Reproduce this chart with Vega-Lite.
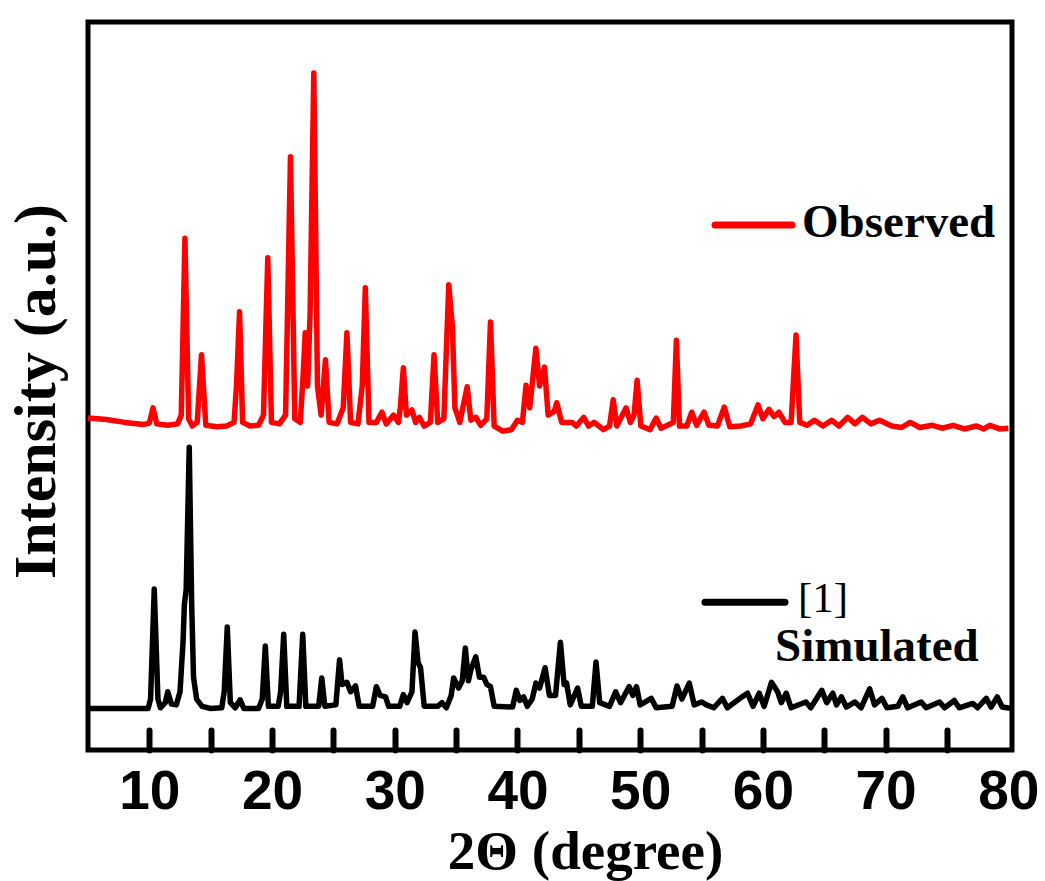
{
  "$schema": "https://vega.github.io/schema/vega-lite/v6.json",
  "width": 924,
  "height": 728,
  "autosize": {"type": "none"},
  "padding": {"left": 88, "top": 22, "right": 33, "bottom": 131},
  "background": "white",
  "config": {"view": {"stroke": "black", "strokeWidth": 5}},
  "datasets": {
    "xrd": [
      {"s":"O","x":5.0,"y":45.6},{"s":"O","x":6.5,"y":45.4},{"s":"O","x":8.0,"y":45.0},{"s":"O","x":9.5,"y":44.7},{"s":"O","x":10.0,"y":44.9},{"s":"O","x":10.3,"y":47.0},{"s":"O","x":10.6,"y":44.8},{"s":"O","x":11.5,"y":44.6},{"s":"O","x":12.3,"y":44.8},{"s":"O","x":12.6,"y":46},{"s":"O","x":12.9,"y":70.3},{"s":"O","x":13.2,"y":45.5},{"s":"O","x":13.5,"y":44.5},{"s":"O","x":13.9,"y":45},{"s":"O","x":14.25,"y":54.3},{"s":"O","x":14.6,"y":44.6},{"s":"O","x":15.5,"y":44.4},{"s":"O","x":16.3,"y":44.5},{"s":"O","x":16.9,"y":45},{"s":"O","x":17.1,"y":50},{"s":"O","x":17.35,"y":60.2},{"s":"O","x":17.6,"y":45},{"s":"O","x":18.2,"y":44.5},{"s":"O","x":18.9,"y":44.6},{"s":"O","x":19.3,"y":46},{"s":"O","x":19.65,"y":67.6},{"s":"O","x":19.95,"y":45},{"s":"O","x":20.6,"y":44.8},{"s":"O","x":21.1,"y":46},{"s":"O","x":21.5,"y":81.5},{"s":"O","x":21.85,"y":45.5},{"s":"O","x":22.3,"y":45},{"s":"O","x":22.55,"y":52},{"s":"O","x":22.7,"y":57.3},{"s":"O","x":22.9,"y":50},{"s":"O","x":23.1,"y":60},{"s":"O","x":23.4,"y":93.0},{"s":"O","x":23.7,"y":50},{"s":"O","x":24.0,"y":46},{"s":"O","x":24.35,"y":53.6},{"s":"O","x":24.65,"y":45},{"s":"O","x":25.3,"y":44.8},{"s":"O","x":25.8,"y":47},{"s":"O","x":26.1,"y":57.3},{"s":"O","x":26.4,"y":45},{"s":"O","x":27.0,"y":44.8},{"s":"O","x":27.35,"y":50},{"s":"O","x":27.6,"y":63.5},{"s":"O","x":27.9,"y":45},{"s":"O","x":28.5,"y":45},{"s":"O","x":28.95,"y":46.4},{"s":"O","x":29.3,"y":44.8},{"s":"O","x":29.9,"y":46},{"s":"O","x":30.3,"y":45},{"s":"O","x":30.45,"y":47},{"s":"O","x":30.7,"y":52.5},{"s":"O","x":30.95,"y":46},{"s":"O","x":31.4,"y":46.7},{"s":"O","x":31.7,"y":45},{"s":"O","x":32.0,"y":45.7},{"s":"O","x":32.4,"y":44.5},{"s":"O","x":32.9,"y":45},{"s":"O","x":33.2,"y":54.3},{"s":"O","x":33.5,"y":45},{"s":"O","x":34.0,"y":45.5},{"s":"O","x":34.4,"y":63.9},{"s":"O","x":34.7,"y":58},{"s":"O","x":34.9,"y":47},{"s":"O","x":35.3,"y":45},{"s":"O","x":35.9,"y":49.9},{"s":"O","x":36.2,"y":45.3},{"s":"O","x":36.6,"y":45.7},{"s":"O","x":37.0,"y":44.6},{"s":"O","x":37.5,"y":45.5},{"s":"O","x":37.8,"y":58.8},{"s":"O","x":38.1,"y":44.5},{"s":"O","x":38.8,"y":43.8},{"s":"O","x":39.5,"y":44},{"s":"O","x":40.0,"y":45.3},{"s":"O","x":40.4,"y":45},{"s":"O","x":40.7,"y":50.1},{"s":"O","x":41.0,"y":47},{"s":"O","x":41.5,"y":55.2},{"s":"O","x":41.8,"y":50},{"s":"O","x":42.2,"y":52.6},{"s":"O","x":42.5,"y":46},{"s":"O","x":43.0,"y":46.5},{"s":"O","x":43.2,"y":47.7},{"s":"O","x":43.6,"y":45},{"s":"O","x":44.45,"y":45},{"s":"O","x":44.8,"y":44.5},{"s":"O","x":45.4,"y":45.7},{"s":"O","x":45.8,"y":44.5},{"s":"O","x":46.25,"y":45},{"s":"O","x":47.0,"y":44},{"s":"O","x":47.5,"y":44.5},{"s":"O","x":47.8,"y":48.1},{"s":"O","x":48.1,"y":44.5},{"s":"O","x":48.85,"y":47},{"s":"O","x":49.2,"y":45},{"s":"O","x":49.5,"y":46},{"s":"O","x":49.75,"y":50.8},{"s":"O","x":50.05,"y":44.5},{"s":"O","x":50.8,"y":44},{"s":"O","x":51.3,"y":45.6},{"s":"O","x":51.7,"y":44.2},{"s":"O","x":52.7,"y":45},{"s":"O","x":52.95,"y":56.3},{"s":"O","x":53.2,"y":44.5},{"s":"O","x":53.8,"y":44.5},{"s":"O","x":54.2,"y":46.4},{"s":"O","x":54.6,"y":44.6},{"s":"O","x":55.2,"y":46.4},{"s":"O","x":55.6,"y":44.6},{"s":"O","x":56.3,"y":44.5},{"s":"O","x":56.85,"y":47.1},{"s":"O","x":57.3,"y":44.4},{"s":"O","x":58.2,"y":44.5},{"s":"O","x":59.0,"y":44.8},{"s":"O","x":59.6,"y":47.4},{"s":"O","x":60.0,"y":45.5},{"s":"O","x":60.5,"y":46.8},{"s":"O","x":60.9,"y":45.8},{"s":"O","x":61.3,"y":46.4},{"s":"O","x":61.8,"y":45},{"s":"O","x":62.3,"y":45},{"s":"O","x":62.7,"y":57.0},{"s":"O","x":63.0,"y":45},{"s":"O","x":63.6,"y":44.6},{"s":"O","x":64.2,"y":45.3},{"s":"O","x":64.9,"y":44.5},{"s":"O","x":65.6,"y":45.3},{"s":"O","x":66.2,"y":44.5},{"s":"O","x":66.9,"y":45.7},{"s":"O","x":67.5,"y":44.8},{"s":"O","x":68.1,"y":45.7},{"s":"O","x":68.8,"y":44.8},{"s":"O","x":69.5,"y":45.3},{"s":"O","x":70.5,"y":44.5},{"s":"O","x":71.3,"y":44.3},{"s":"O","x":72.0,"y":45},{"s":"O","x":72.8,"y":44.3},{"s":"O","x":73.8,"y":44.6},{"s":"O","x":74.6,"y":44.2},{"s":"O","x":75.5,"y":44.6},{"s":"O","x":76.4,"y":44.1},{"s":"O","x":77.4,"y":44.5},{"s":"O","x":78.0,"y":44.1},{"s":"O","x":78.5,"y":44.6},{"s":"O","x":79.3,"y":44.1},{"s":"O","x":80.0,"y":44.2},
      {"s":"S","x":5.0,"y":5.7},{"s":"S","x":9.9,"y":5.7},{"s":"S","x":10.1,"y":7},{"s":"S","x":10.4,"y":22.1},{"s":"S","x":10.7,"y":7},{"s":"S","x":10.9,"y":5.8},{"s":"S","x":11.3,"y":6.5},{"s":"S","x":11.5,"y":8.0},{"s":"S","x":11.8,"y":6.3},{"s":"S","x":12.2,"y":6.2},{"s":"S","x":12.5,"y":8},{"s":"S","x":12.75,"y":15},{"s":"S","x":12.85,"y":19.9},{"s":"S","x":13.0,"y":22},{"s":"S","x":13.25,"y":41.6},{"s":"S","x":13.45,"y":20},{"s":"S","x":13.6,"y":10},{"s":"S","x":13.85,"y":7},{"s":"S","x":14.3,"y":6},{"s":"S","x":15.0,"y":5.7},{"s":"S","x":15.9,"y":5.8},{"s":"S","x":16.1,"y":8},{"s":"S","x":16.35,"y":16.9},{"s":"S","x":16.6,"y":6.5},{"s":"S","x":17.0,"y":5.8},{"s":"S","x":17.4,"y":6.9},{"s":"S","x":17.7,"y":5.7},{"s":"S","x":18.9,"y":5.7},{"s":"S","x":19.2,"y":7},{"s":"S","x":19.45,"y":14.3},{"s":"S","x":19.7,"y":6},{"s":"S","x":20.5,"y":6},{"s":"S","x":20.7,"y":8},{"s":"S","x":20.95,"y":15.9},{"s":"S","x":21.2,"y":6},{"s":"S","x":22.2,"y":6},{"s":"S","x":22.5,"y":15.9},{"s":"S","x":22.75,"y":6},{"s":"S","x":23.8,"y":6},{"s":"S","x":24.05,"y":9.9},{"s":"S","x":24.3,"y":6},{"s":"S","x":25.2,"y":6.2},{"s":"S","x":25.5,"y":12.4},{"s":"S","x":25.7,"y":9},{"s":"S","x":26.1,"y":9.3},{"s":"S","x":26.4,"y":8},{"s":"S","x":26.8,"y":8.8},{"s":"S","x":27.1,"y":6},{"s":"S","x":28.2,"y":6},{"s":"S","x":28.5,"y":8.7},{"s":"S","x":28.8,"y":7.5},{"s":"S","x":29.25,"y":7.3},{"s":"S","x":29.5,"y":6},{"s":"S","x":30.4,"y":6},{"s":"S","x":30.7,"y":7.6},{"s":"S","x":31.0,"y":6.5},{"s":"S","x":31.4,"y":8},{"s":"S","x":31.65,"y":16.2},{"s":"S","x":31.9,"y":12},{"s":"S","x":32.1,"y":11.3},{"s":"S","x":32.4,"y":6},{"s":"S","x":33.5,"y":6},{"s":"S","x":33.85,"y":6.5},{"s":"S","x":34.2,"y":5.8},{"s":"S","x":34.6,"y":7.5},{"s":"S","x":34.8,"y":9.9},{"s":"S","x":35.2,"y":8.5},{"s":"S","x":35.5,"y":9.5},{"s":"S","x":35.75,"y":14.0},{"s":"S","x":36.0,"y":9.5},{"s":"S","x":36.2,"y":11},{"s":"S","x":36.6,"y":12.8},{"s":"S","x":36.9,"y":10},{"s":"S","x":37.25,"y":10},{"s":"S","x":37.5,"y":9},{"s":"S","x":37.8,"y":8.7},{"s":"S","x":38.1,"y":6},{"s":"S","x":39.6,"y":5.9},{"s":"S","x":39.9,"y":8.2},{"s":"S","x":40.2,"y":6.8},{"s":"S","x":40.5,"y":7.3},{"s":"S","x":40.8,"y":6},{"s":"S","x":41.2,"y":7},{"s":"S","x":41.5,"y":9.2},{"s":"S","x":41.8,"y":8.5},{"s":"S","x":42.25,"y":11.3},{"s":"S","x":42.6,"y":7.5},{"s":"S","x":43.1,"y":7.5},{"s":"S","x":43.5,"y":14.8},{"s":"S","x":43.8,"y":9},{"s":"S","x":44.0,"y":9.2},{"s":"S","x":44.3,"y":6.2},{"s":"S","x":44.9,"y":8.5},{"s":"S","x":45.2,"y":6},{"s":"S","x":46.1,"y":6},{"s":"S","x":46.4,"y":12.1},{"s":"S","x":46.7,"y":6.5},{"s":"S","x":47.5,"y":6},{"s":"S","x":48.0,"y":8},{"s":"S","x":48.4,"y":6.5},{"s":"S","x":49.1,"y":8.7},{"s":"S","x":49.4,"y":7.5},{"s":"S","x":49.7,"y":8.7},{"s":"S","x":50.0,"y":6.2},{"s":"S","x":50.9,"y":7.1},{"s":"S","x":51.3,"y":5.8},{"s":"S","x":52.6,"y":6},{"s":"S","x":53.0,"y":8.8},{"s":"S","x":53.4,"y":7},{"s":"S","x":54.0,"y":9.2},{"s":"S","x":54.4,"y":6.2},{"s":"S","x":55.0,"y":6.6},{"s":"S","x":55.4,"y":6.2},{"s":"S","x":56.0,"y":5.8},{"s":"S","x":56.7,"y":7.1},{"s":"S","x":57.1,"y":5.8},{"s":"S","x":58.3,"y":7.3},{"s":"S","x":58.75,"y":7.8},{"s":"S","x":59.2,"y":6},{"s":"S","x":59.7,"y":7.8},{"s":"S","x":60.1,"y":6},{"s":"S","x":60.7,"y":9.3},{"s":"S","x":61.2,"y":8},{"s":"S","x":61.5,"y":6.5},{"s":"S","x":61.9,"y":7.8},{"s":"S","x":62.3,"y":5.8},{"s":"S","x":63.5,"y":6.6},{"s":"S","x":63.9,"y":5.8},{"s":"S","x":64.8,"y":8.2},{"s":"S","x":65.2,"y":6.5},{"s":"S","x":65.7,"y":7.8},{"s":"S","x":66.0,"y":6.2},{"s":"S","x":66.4,"y":7.3},{"s":"S","x":66.8,"y":5.9},{"s":"S","x":67.5,"y":6.6},{"s":"S","x":68.0,"y":5.8},{"s":"S","x":68.7,"y":8.4},{"s":"S","x":69.1,"y":6.2},{"s":"S","x":69.7,"y":7.1},{"s":"S","x":70.1,"y":5.8},{"s":"S","x":71.0,"y":6},{"s":"S","x":71.4,"y":7.3},{"s":"S","x":71.8,"y":5.8},{"s":"S","x":72.9,"y":6.6},{"s":"S","x":73.3,"y":5.8},{"s":"S","x":74.4,"y":6.6},{"s":"S","x":74.8,"y":5.8},{"s":"S","x":75.6,"y":6.8},{"s":"S","x":76.0,"y":5.8},{"s":"S","x":77.1,"y":6.4},{"s":"S","x":77.5,"y":5.8},{"s":"S","x":78.2,"y":7.1},{"s":"S","x":78.6,"y":5.9},{"s":"S","x":79.1,"y":7.3},{"s":"S","x":79.5,"y":5.9},{"s":"S","x":80.3,"y":5.7}
    ],
    "keys": [
      {"s":"O","x":56.1,"x2":62.37,"y":72.1},
      {"s":"S","x":55.28,"x2":61.8,"y":20.3}
    ],
    "boldLabels": [
      {"t":"Observed","x":63.19,"y":70.5},
      {"t":"Simulated","x":60.99,"y":12.2}
    ],
    "refLabels": [
      {"t":"[1]","x":62.86,"y":18.9}
    ]
  },
  "layer": [
    {
      "data": {"name": "xrd"},
      "mark": {"type": "line", "strokeWidth": 5.5, "strokeJoin": "round", "clip": true},
      "encoding": {
        "x": {
          "field": "x", "type": "quantitative",
          "scale": {"domain": [5, 80.3], "nice": false, "zero": false},
          "axis": {
            "title": "2Θ (degree)",
            "values": [10,15,20,25,30,35,40,45,50,55,60,65,70,75,80],
            "labelExpr": "datum.value % 10 === 0 ? datum.label : ''",
            "grid": false, "domain": false,
            "tickColor": "black", "tickWidth": 6, "tickCap": "round",
            "tickSize": -20,
            "tickOpacity": {"condition": {"test": "datum.value >= 80", "value": 0}, "value": 1},
            "encode": {"ticks": {"update": {"y2": {"signal": "datum.value % 10 === 0 ? -20 : -12"}}}},
            "labelFont": "Liberation Sans", "labelFontWeight": "bold", "labelFontSize": 55,
            "labelColor": "black", "labelBaseline": "alphabetic", "labelPadding": 78,
            "labelFlush": false, "labelOverlap": false,
            "titleFont": "Liberation Serif", "titleFontWeight": "bold", "titleFontSize": 55,
            "titleColor": "black", "titleBaseline": "alphabetic", "titleAlign": "center",
            "titleX": 497, "titleY": 118
          }
        },
        "y": {
          "field": "y", "type": "quantitative",
          "scale": {"domain": [0, 100], "nice": false, "zero": false},
          "axis": {
            "title": "Intensity (a.u.)",
            "labels": false, "ticks": false, "domain": false, "grid": false,
            "titleFont": "Liberation Serif", "titleFontWeight": "bold", "titleFontSize": 60,
            "titleColor": "black", "titleAngle": -90, "titleBaseline": "alphabetic",
            "titleAlign": "center", "titleX": -34, "titleY": 369
          }
        },
        "color": {
          "field": "s", "type": "nominal",
          "scale": {"domain": ["O", "S"], "range": ["#ff0000", "#000000"]},
          "legend": null
        }
      }
    },
    {
      "data": {"name": "keys"},
      "mark": {"type": "rule", "strokeWidth": 7, "strokeCap": "round"},
      "encoding": {
        "x": {"field": "x", "type": "quantitative"},
        "x2": {"field": "x2"},
        "y": {"field": "y", "type": "quantitative"},
        "color": {"field": "s", "type": "nominal", "legend": null}
      }
    },
    {
      "data": {"name": "boldLabels"},
      "mark": {"type": "text", "font": "Liberation Serif", "fontWeight": "bold", "fontSize": 47, "align": "left", "baseline": "alphabetic", "color": "black"},
      "encoding": {
        "x": {"field": "x", "type": "quantitative"},
        "y": {"field": "y", "type": "quantitative"},
        "text": {"field": "t"}
      }
    },
    {
      "data": {"name": "refLabels"},
      "mark": {"type": "text", "font": "Liberation Serif", "fontSize": 43, "align": "left", "baseline": "alphabetic", "color": "black"},
      "encoding": {
        "x": {"field": "x", "type": "quantitative"},
        "y": {"field": "y", "type": "quantitative"},
        "text": {"field": "t"}
      }
    }
  ]
}
